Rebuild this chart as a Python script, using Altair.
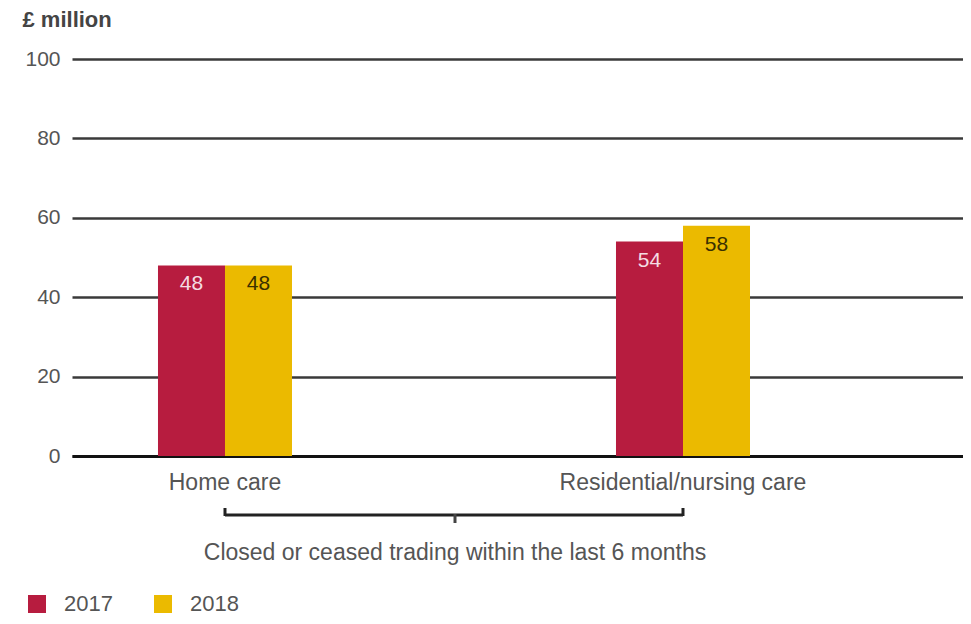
import altair as alt
import pandas as pd

categories = ["Home care", "Residential/nursing care"]
years = ["2017", "2018"]
values_2017 = [48, 54]
values_2018 = [48, 58]
y_ticks = [0, 20, 40, 60, 80, 100]
bracket_label = "Closed or ceased trading within the last 6 months"

rows = []
for c, v in zip(categories, values_2017):
    rows.append({"category": c, "year": "2017", "value": v})
for c, v in zip(categories, values_2018):
    rows.append({"category": c, "year": "2018", "value": v})
df = pd.DataFrame(rows)

FONT = "Liberation Sans"

x_enc = alt.X(
    "category:N",
    sort=categories,
    scale=alt.Scale(paddingInner=0.7074, paddingOuter=0.3264, align=0.2876),
    axis=alt.Axis(
        title=None, labelAngle=0, ticks=False, domain=True, domainColor="#111",
        domainWidth=3, labelPadding=15, labelFontSize=23, labelColor="#555",
        labelFont=FONT, grid=False, labelLimit=0,
    ),
)
xoff = alt.XOffset("year:N", sort=years, scale=alt.Scale(paddingInner=0, paddingOuter=0))

bars = alt.Chart(df).mark_bar().encode(
    x=x_enc,
    xOffset=xoff,
    y=alt.Y(
        "value:Q",
        scale=alt.Scale(domain=[0, 100], nice=False),
        axis=alt.Axis(
            values=y_ticks, title="£ million", titleAngle=0, titleAlign="left",
            titleBaseline="middle", titleX=-50, titleY=-40, titleFontSize=22,
            titleFont=FONT, titleFontWeight="bold", titleColor="#444",
            ticks=False, domain=False, labelPadding=12, labelFontSize=21,
            labelColor="#555", labelFont=FONT, gridColor="#3a3a3a", gridWidth=2.5,
        ),
    ),
    color=alt.Color(
        "year:N",
        sort=years,
        scale=alt.Scale(domain=years, range=["#B71C3F", "#EBBA00"]),
        legend=alt.Legend(
            title=None, orient="none", legendX=-46, legendY=534, direction="horizontal",
            symbolType="square", symbolSize=324, symbolStrokeWidth=0, symbolOpacity=1,
            labelFontSize=22, labelFont=FONT, labelColor="#555", labelOffset=16,
            columnPadding=39, padding=0,
        ),
    ),
)

labels = alt.Chart(df).mark_text(dy=19, baseline="middle", fontSize=21, font=FONT).encode(
    x=alt.X("category:N", sort=categories),
    xOffset=xoff,
    y=alt.Y("value:Q"),
    text=alt.Text("value:Q"),
    color=alt.condition(alt.datum.year == "2017", alt.value("#f4dce2"), alt.value("#3a3000")),
)

bracket_df = pd.DataFrame({"a": [categories[0]], "b": [categories[1]], "label": [bracket_label]})
base_b = alt.Chart(bracket_df)
h_rule = base_b.mark_rule(color="#222", strokeWidth=3).encode(
    x=alt.X("a:N", sort=categories), x2="b:N", y=alt.value(456)
)
left_tick = base_b.mark_rule(color="#222", strokeWidth=3).encode(
    x=alt.X("a:N", sort=categories), y=alt.value(449), y2=alt.value(457)
)
right_tick = base_b.mark_rule(color="#222", strokeWidth=3).encode(
    x=alt.X("b:N", sort=categories), y=alt.value(449), y2=alt.value(457)
)
mid_tick = base_b.mark_rule(color="#444", strokeWidth=3).encode(
    x=alt.value(383), y=alt.value(455), y2=alt.value(464)
)
btext = base_b.mark_text(fontSize=23, font=FONT, color="#555", baseline="middle").encode(
    x=alt.value(383), y=alt.value(494), text="label:N"
)

chart = alt.layer(bars, labels, h_rule, left_tick, right_tick, mid_tick, btext).properties(
    width=891, height=397,
    autosize=alt.AutoSizeParams(type="none"),
    padding={"left": 64, "top": 51, "right": 0, "bottom": 160},
).configure_view(stroke=None)

chart.save("out.html", embed_options={"renderer": "svg", "actions": False})
